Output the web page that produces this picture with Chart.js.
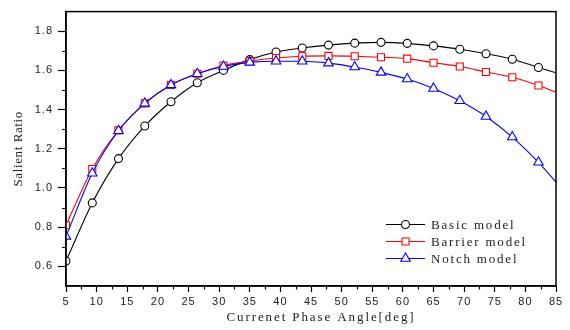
<!DOCTYPE html>
<html>
<head>
<meta charset="utf-8">
<script src="https://cdn.jsdelivr.net/npm/chart.js@4/dist/chart.umd.min.js"></script>
<style>
html,body{margin:0;padding:0;background:#fff;}
#wrap{width:570px;height:330px;}
</style>
</head>
<body>
<div id="wrap"><canvas id="c" width="570" height="330"></canvas></div>
<script>
// ---- data ----
const angles = [5, 9.29, 13.57, 17.86, 22.14, 26.43, 30.71, 35, 39.29, 43.57, 47.86, 52.14, 56.43, 60.71, 65, 69.29, 73.57, 77.86, 82.14, 85];
const basicModel = [0.627, 0.924, 1.150, 1.316, 1.440, 1.537, 1.600, 1.655, 1.694, 1.714, 1.729, 1.739, 1.743, 1.738, 1.725, 1.708, 1.685, 1.657, 1.615, 1.588];
const barrierModel = [0.810, 1.097, 1.294, 1.432, 1.526, 1.583, 1.625, 1.647, 1.663, 1.672, 1.674, 1.672, 1.667, 1.660, 1.639, 1.620, 1.592, 1.565, 1.523, 1.489];
const notchModel = [0.753, 1.075, 1.292, 1.432, 1.526, 1.583, 1.620, 1.641, 1.647, 1.647, 1.637, 1.617, 1.590, 1.556, 1.508, 1.445, 1.365, 1.260, 1.131, 1.030];
const seriesNames = ["Basic model", "Barrier model", "Notch model"];
const xTicks = [5, 10, 15, 20, 25, 30, 35, 40, 45, 50, 55, 60, 65, 70, 75, 80, 85];
const xMinor = [7.5, 12.5, 17.5, 22.5, 27.5, 32.5, 37.5, 42.5, 47.5, 52.5, 57.5, 62.5, 67.5, 72.5, 77.5, 82.5];
const yTicks = [0.6, 0.8, 1.0, 1.2, 1.4, 1.6, 1.8];
const yMinor = [0.7, 0.9, 1.1, 1.3, 1.5, 1.7];
const xTitle = "Currenet Phase Angle[deg]";
const yTitle = "Salient Ratio";

const pts = arr => angles.map((a, i) => ({x: a, y: arr[i]}));
const lastIdx = angles.length - 1;

function ds(label, arr, color, style, r, order) {
  return {
    label, data: pts(arr), order,
    borderColor: color, borderWidth: 1.1,
    pointStyle: style,
    pointRadius: c => c.dataIndex === lastIdx ? 0 : r,
    pointBorderColor: color, pointBackgroundColor: '#fff', pointBorderWidth: 1.1,
    cubicInterpolationMode: 'monotone', fill: false
  };
}

const letterPlugin = {
  id: 'letter',
  beforeDraw(chart) { chart.ctx.letterSpacing = '1px'; }
};

const legendR = [4, 5, 5.5];

const decoPlugin = {
  id: 'deco',
  afterDraw(chart) {
    const ctx = chart.ctx, a = chart.chartArea;
    const xs = chart.scales.x, ys = chart.scales.y;
    ctx.save();
    ctx.letterSpacing = '0px';
    ctx.strokeStyle = '#000';
    ctx.lineWidth = 1.5;
    ctx.strokeRect(a.left, a.top, a.right - a.left, a.bottom - a.top);
    // minor ticks
    ctx.lineWidth = 1.2;
    ctx.beginPath();
    yMinor.forEach(v => { const y = Math.round(ys.getPixelForValue(v)) + 0.5; ctx.moveTo(a.left - 4, y); ctx.lineTo(a.left, y); });
    xMinor.forEach(v => { const x = Math.round(xs.getPixelForValue(v)) + 0.5; ctx.moveTo(x, a.bottom); ctx.lineTo(x, a.bottom + 3.5); });
    ctx.stroke();
    // titles
    ctx.fillStyle = '#222';
    ctx.font = '13px "Liberation Serif", "Times New Roman", serif';
    ctx.letterSpacing = '1.9px';
    ctx.textAlign = 'center';
    ctx.textBaseline = 'alphabetic';
    ctx.fillText(xTitle, (a.left + a.right) / 2 + 10, 321);
    ctx.save();
    ctx.translate(22, (a.top + a.bottom) / 2);
    ctx.rotate(-Math.PI / 2);
    ctx.letterSpacing = '0.6px';
    ctx.fillText(yTitle, 0, 0);
    ctx.restore();
    // legend
    const rows = [224.5, 241.5, 258.5];
    ctx.textAlign = 'left';
    ctx.textBaseline = 'middle';
    ctx.letterSpacing = '1.8px';
    chart.data.datasets.forEach((d, i) => {
      const y = rows[i];
      ctx.strokeStyle = d.borderColor;
      ctx.lineWidth = 1.1;
      ctx.beginPath(); ctx.moveTo(386, y); ctx.lineTo(425, y); ctx.stroke();
      ctx.fillStyle = '#fff';
      ctx.strokeStyle = d.borderColor;
      Chart.helpers.drawPoint(ctx, {pointStyle: d.pointStyle, rotation: 0, borderWidth: 1.1, radius: legendR[i]}, 405.5, y);
      ctx.fillStyle = '#222';
      ctx.fillText(seriesNames[i], 431, y + 1);
    });
    ctx.restore();
  }
};

const d0 = ds(seriesNames[0], basicModel, '#000', 'circle', 4, 2);
const d1 = ds(seriesNames[1], barrierModel, '#ff0000', 'rect', 5, 1);
const d2 = ds(seriesNames[2], notchModel, '#0000ff', 'triangle', 5.5, 0);

new Chart(document.getElementById('c'), {
  type: 'line',
  data: { datasets: [d0, d1, d2] },
  plugins: [letterPlugin, decoPlugin],
  options: {
    responsive: false,
    animation: false,
    layout: { padding: { top: 7, right: 14, left: 0, bottom: 0 } },
    plugins: { legend: { display: false }, tooltip: { enabled: false } },
    elements: { line: { borderWidth: 1.1 } },
    scales: {
      x: {
        type: 'linear', min: 5, max: 85,
        afterBuildTicks: s => { s.ticks = xTicks.map(v => ({value: v})); },
        afterFit: s => { s.height = 44; },
        grid: { drawOnChartArea: false, drawTicks: true, tickLength: 6, tickColor: '#000', tickWidth: 1.2 },
        border: { display: true, color: '#000', width: 1.5 },
        ticks: { color: '#222', padding: 3, maxRotation: 0, autoSkip: false,
                 font: { family: '"Liberation Sans", Arial, sans-serif', size: 11 } }
      },
      y: {
        type: 'linear', min: 0.5, max: 1.9,
        afterBuildTicks: s => { s.ticks = yTicks.map(v => ({value: v})); },
        afterFit: s => { s.width = 66; },
        grid: { drawOnChartArea: false, drawTicks: true, tickLength: 8, tickColor: '#000', tickWidth: 1.2 },
        border: { display: true, color: '#000', width: 1.5 },
        ticks: { color: '#222', padding: 5, autoSkip: false,
                 callback: v => v.toFixed(1),
                 font: { family: '"Liberation Sans", Arial, sans-serif', size: 11 } }
      }
    }
  }
});
</script>
</body>
</html>
